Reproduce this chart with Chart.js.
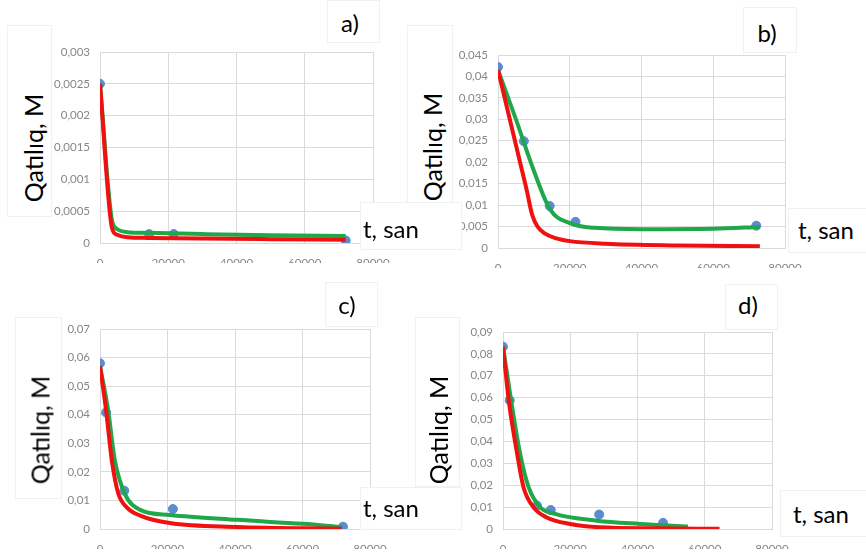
<!DOCTYPE html>
<html>
<head>
<meta charset="utf-8">
<script src="https://cdn.jsdelivr.net/npm/chart.js@4.4.1/dist/chart.umd.min.js"></script>
<style>
  body { margin: 0; background: #fff; width: 866px; height: 554px; position: relative; overflow: hidden; font-family: Lato, sans-serif; }
  canvas { position: absolute; left: 0; top: 0; }
  .box { position: absolute; background: #fff; border: 1px solid #f1f1f1; box-sizing: border-box; }
  .lbl { position: absolute; color: #000; white-space: nowrap; line-height: 1; }
  .ylab { font-size: 25px; transform: translate(-50%, -50%) rotate(-90deg); }
  .tag { font-size: 24px; transform: translate(-50%, -50%); }
  .tsan { font-size: 24px; transform: translateY(-50%); }
</style>
</head>
<body>
<canvas id="ca" width="866" height="554"></canvas>
<canvas id="cb" width="866" height="554"></canvas>
<canvas id="cc" width="866" height="554"></canvas>
<canvas id="cd" width="866" height="554"></canvas>

<div class="box" style="left:7px;top:25px;width:45px;height:192px"></div>
<div class="box" style="left:407px;top:25px;width:46px;height:178px"></div>
<div class="box" style="left:15px;top:317px;width:47px;height:182px"></div>
<div class="box" style="left:415px;top:317px;width:45px;height:170px"></div>
<div class="box" style="left:327px;top:0px;width:53px;height:43px"></div>
<div class="box" style="left:743px;top:7px;width:54px;height:46px"></div>
<div class="box" style="left:325px;top:282px;width:53px;height:45px"></div>
<div class="box" style="left:725px;top:284px;width:53px;height:46px"></div>
<div class="box" style="left:360px;top:202px;width:102px;height:48px"></div>
<div class="box" style="left:788px;top:208px;width:80px;height:45px"></div>
<div class="box" style="left:360px;top:487px;width:102px;height:43px"></div>
<div class="box" style="left:780px;top:490px;width:88px;height:47px"></div>

<div class="lbl ylab" style="left:33px;top:148px">Qatılıq, M</div>
<div class="lbl ylab" style="left:432px;top:147px">Qatılıq, M</div>
<div class="lbl ylab" style="left:40px;top:430px">Qatılıq, M</div>
<div class="lbl ylab" style="left:438px;top:430px">Qatılıq, M</div>
<div class="lbl tag" style="left:350px;top:23px">a)</div>
<div class="lbl tag" style="left:767px;top:33px">b)</div>
<div class="lbl tag" style="left:347px;top:305px">c)</div>
<div class="lbl tag" style="left:748px;top:305px">d)</div>
<div class="lbl tsan" style="left:363px;top:229px">t, san</div>
<div class="lbl tsan" style="left:798px;top:230px">t, san</div>
<div class="lbl tsan" style="left:363px;top:508px">t, san</div>
<div class="lbl tsan" style="left:793px;top:514px">t, san</div>

<script>
// a)
const aPointT = [0, 14400, 21600, 72000];
const aPointC = [0.0025, 0.00014, 0.00014, 0.00004];
const aGreenT = [0, 3500, 5000, 8000, 14000, 30000, 50000, 72000];
const aGreenC = [0.0025, 0.00036, 0.00022, 0.00017, 0.00016, 0.00014, 0.00012, 0.00011];
const aRedT = [0, 3500, 5000, 8000, 14000, 30000, 50000, 72000];
const aRedC = [0.0025, 0.00024, 0.00013, 0.00009, 0.00008, 0.00007, 0.00006, 0.00005];

// b)
const bPointT = [0, 7200, 14400, 21600, 72000];
const bPointC = [0.0422, 0.0249, 0.0098, 0.0061, 0.0052];
const bGreenT = [0, 5000, 10000, 14500, 20000, 27000, 40000, 60000, 73000];
const bGreenC = [0.0415, 0.0300, 0.0180, 0.0090, 0.0058, 0.0047, 0.0044, 0.0045, 0.0049];
const bRedT = [0, 3000, 6000, 8000, 9500, 11000, 13000, 16000, 20000, 30000, 50000, 73000];
const bRedC = [0.0415, 0.0310, 0.0205, 0.0135, 0.0078, 0.0050, 0.0034, 0.0023, 0.0016, 0.0010, 0.0006, 0.0004];

// c)
const cPointT = [0, 1800, 7200, 21600, 72000];
const cPointC = [0.058, 0.0408, 0.0134, 0.007, 0.0008];
const cGreenT = [0, 2400, 4400, 7400, 11900, 20700, 40600, 60100, 71700];
const cGreenC = [0.057, 0.0416, 0.024, 0.0122, 0.0067, 0.0049, 0.0032, 0.0018, 0.0007];
const cRedT = [0, 1800, 3500, 5400, 8000, 11900, 20700, 40600, 71700];
const cRedC = [0.057, 0.0416, 0.024, 0.0125, 0.0075, 0.0047, 0.0021, 0.0007, 0.0001];

// d)
const dPointT = [0, 2000, 10100, 14200, 28600, 47600];
const dPointC = [0.0833, 0.0588, 0.0107, 0.0087, 0.0066, 0.0028];
const dGreenT = [0, 2400, 5100, 7600, 11100, 15500, 27900, 40700, 55000];
const dGreenC = [0.0833, 0.0588, 0.0344, 0.0191, 0.0099, 0.0069, 0.0038, 0.0023, 0.0011];
const dRedT = [0, 1700, 4200, 6100, 9100, 13000, 20000, 28800, 45000, 64400];
const dRedC = [0.0833, 0.0588, 0.0344, 0.0191, 0.0099, 0.0053, 0.0023, 0.0008, 0.0003, 0.0001];

const xTicks = [0, 20000, 40000, 60000, 80000];

function zip(ts, cs) {
  return ts.map((t, i) => ({ x: t, y: cs[i] }));
}

function makeChart(id, area, yMax, yStep, pts, green, red) {
  const gridColor = '#dadada';
  const tickFont = { family: 'Lato', size: 11.5 };
  new Chart(document.getElementById(id), {
    type: 'scatter',
    data: {
      datasets: [
        {
          data: red, showLine: true, borderColor: '#f01010', borderWidth: 4,
          pointRadius: 0, cubicInterpolationMode: 'monotone', order: 1
        },
        {
          data: green, showLine: true, borderColor: '#1ea84a', borderWidth: 4,
          pointRadius: 0, cubicInterpolationMode: 'monotone', order: 2
        },
        {
          data: pts, showLine: false, backgroundColor: '#5b8bd0', borderColor: '#5b8bd0',
          pointRadius: 4.5, order: 3
        }
      ]
    },
    options: {
      responsive: false,
      animation: false,
      layout: {
        padding: { left: area.l - 60, top: area.t, right: 866 - area.r, bottom: 554 - area.b - 20 }
      },
      plugins: { legend: { display: false }, tooltip: { enabled: false } },
      scales: {
        x: {
          type: 'linear', min: 0, max: 80000,
          afterFit: s => { s.height = 20; },
          afterBuildTicks: s => { s.ticks = xTicks.map(v => ({ value: v })); },
          grid: { color: gridColor, drawTicks: false },
          border: { color: gridColor },
          ticks: { color: '#878787', font: tickFont, padding: 13, maxRotation: 0, callback: v => String(v) }
        },
        y: {
          min: 0, max: yMax,
          afterFit: s => { s.width = 60; },
          grid: { color: gridColor, drawTicks: false },
          border: { color: gridColor },
          ticks: {
            stepSize: yStep, color: '#878787', font: tickFont, padding: 10,
            callback: v => String(parseFloat(v.toFixed(5))).replace('.', ',')
          }
        }
      }
    }
  });
}

makeChart('ca', { l: 100, t: 52, r: 373, b: 243 }, 0.003, 0.0005,
  zip(aPointT, aPointC), zip(aGreenT, aGreenC), zip(aRedT, aRedC));
makeChart('cb', { l: 498, t: 55, r: 785, b: 248 }, 0.045, 0.005,
  zip(bPointT, bPointC), zip(bGreenT, bGreenC), zip(bRedT, bRedC));
makeChart('cc', { l: 100, t: 329, r: 370, b: 529 }, 0.07, 0.01,
  zip(cPointT, cPointC), zip(cGreenT, cGreenC), zip(cRedT, cRedC));
makeChart('cd', { l: 503, t: 332, r: 772, b: 529 }, 0.09, 0.01,
  zip(dPointT, dPointC), zip(dGreenT, dGreenC), zip(dRedT, dRedC));
</script>
</body>
</html>
